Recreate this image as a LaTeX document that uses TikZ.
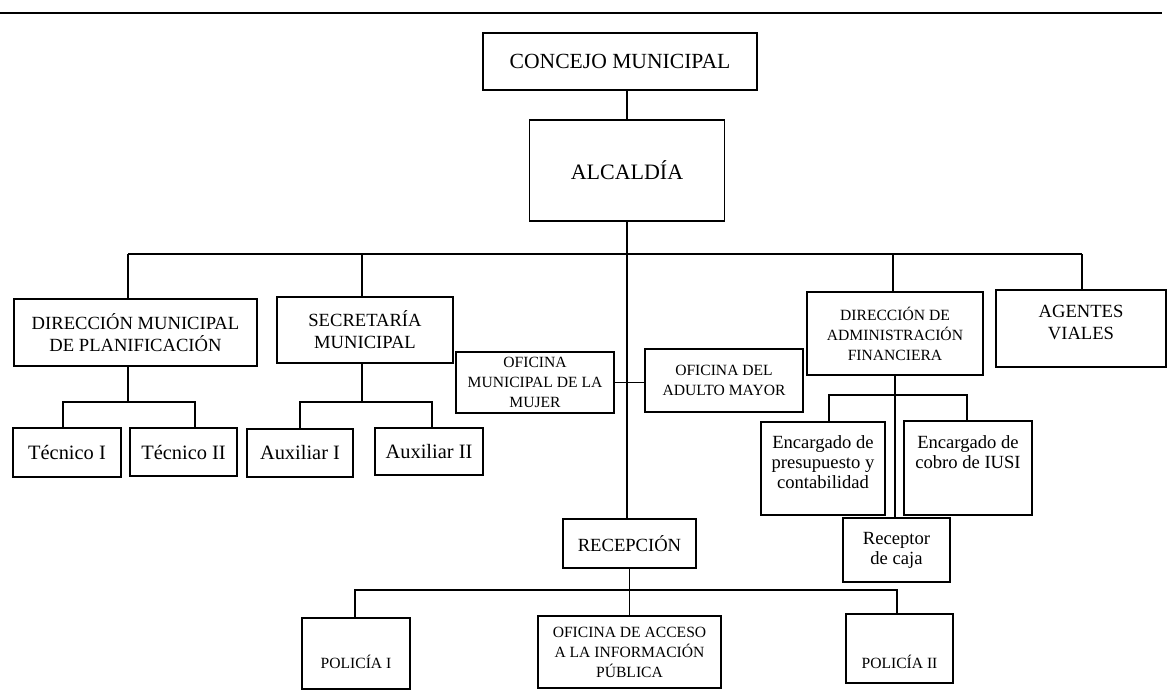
\documentclass[tikz,border=0pt]{standalone}
\usepackage{fontspec}
\setmainfont{Liberation Serif}
\usepackage{xcolor}
\usepackage{tikz}

\begin{document}
\begin{tikzpicture}[x=0.5pt,y=-0.5pt,line width=0.9pt,
  box/.style={draw,align=center,inner sep=0pt},
  sz/.style 2 args={minimum width=#1*0.5pt,minimum height=#2*0.5pt},
  big/.style={font=\fontsize{10.8}{12}\selectfont},
  mid/.style={font=\fontsize{9.3}{11}\selectfont},
  small/.style={font=\fontsize{7.8}{10}\selectfont},
  low/.style={font=\fontsize{10.2}{10}\selectfont},
  enc/.style={font=\fontsize{9.3}{10}\selectfont}]
\useasboundingbox (0,0) rectangle (1169,698);
\draw (0,13) -- (1162,13);

\node[box,big,sz={274}{57}]   (con)  at (620,61.5)   {CONCEJO MUNICIPAL};
\node[box,font=\fontsize{11}{13}\selectfont,sz={195}{101}] (alc) at (627,170.5) {ALCALDÍA};
\node[box,mid,sz={243}{67}]   (dmp)  at (135.5,332.5) {DIRECCIÓN MUNICIPAL\\DE PLANIFICACIÓN};
\node[box,mid,sz={176}{66}]   (sec)  at (365,330)    {SECRETARÍA\\MUNICIPAL};
\node[box,small,sz={158}{61}] (muj)  at (535,382.5)  {OFICINA\\MUNICIPAL DE LA\\MUJER};
\node[box,small,sz={158}{63}] (adu)  at (724,380.5)  {OFICINA DEL\\ADULTO MAYOR};
\node[box,small,sz={176}{83}] (daf)  at (895,333.5)  {DIRECCIÓN DE\\ADMINISTRACIÓN\\FINANCIERA};
\node[box,sz={170}{77},label={[mid,align=center,yshift=3pt]center:AGENTES\\VIALES}] (age) at (1081,328.5) {};
\node[box,low,sz={108}{49}]   (tec1) at (67,452.5)   {Técnico I};
\node[box,low,sz={107}{48}]   (tec2) at (183.5,452)  {Técnico II};
\node[box,low,sz={106}{48}]   (aux1) at (300,453)    {Auxiliar I};
\node[box,low,sz={108}{47}]   (aux2) at (429,451.5)  {Auxiliar II};
\node[box,sz={124}{93},label={[enc,align=center,yshift=3pt]center:Encargado de\\presupuesto y\\contabilidad}] (pre) at (823,468.5) {};
\node[box,sz={128}{94},label={[enc,align=center,yshift=8pt]center:Encargado de\\cobro de IUSI}] (ius) at (968,468) {};
\node[box,enc,sz={107}{64}]   (rcj)  at (896.5,550)  {Receptor\\de caja};
\node[box,mid,sz={133}{49}]   (rec)  at (629.5,543.5) {RECEPCIÓN};
\node[box,small,sz={183}{72}] (acc)  at (629.5,652)  {OFICINA DE ACCESO\\A LA INFORMACIÓN\\PÚBLICA};
\node[box,sz={108}{71},label={[small,yshift=-4.2pt]center:POLICÍA I}]  (po1) at (356,653.5) {};
\node[box,sz={107}{69},label={[small,yshift=-6.7pt]center:POLICÍA II}] (po2) at (899.5,648.5) {};

\coordinate (b1) at (128,254);
\coordinate (b2) at (362,254);
\coordinate (b3) at (893,254);
\coordinate (b4) at (1082,254);
\coordinate (d1) at (63,402);
\coordinate (d2) at (195,402);
\coordinate (s1) at (300,402);
\coordinate (s2) at (432,402);
\coordinate (f1) at (829,395);
\coordinate (f2) at (967,395);
\coordinate (p1) at (355,590);
\coordinate (p2) at (897,590);

\draw (con.south -| alc.north) -- (alc.north);
\draw (alc.south) -- (alc.south |- rec.north);
\draw (b1) -- (b4);
\draw (b1) -- (b1 |- dmp.north);
\draw (b2) -- (b2 |- sec.north);
\draw (b3) -- (b3 |- daf.north);
\draw (b4) -- (b4 |- age.north);
\draw (muj.east) -- (muj.east -| adu.west);
\draw (b1 |- dmp.south) -- (b1 |- d1);
\draw (d1 |- tec1.north) -- (d1) -- (d2) -- (d2 |- tec2.north);
\draw (b2 |- sec.south) -- (b2 |- s1);
\draw (s1 |- aux1.north) -- (s1) -- (s2) -- (s2 |- aux2.north);
\draw (daf.south) -- (daf.south |- rcj.north);
\draw (f1 |- pre.north) -- (f1) -- (f2) -- (f2 |- ius.north);
\draw (rec.south) -- (acc.north);
\draw (p1 |- po1.north) -- (p1) -- (p2) -- (p2 |- po2.north);
\end{tikzpicture}
\end{document}
